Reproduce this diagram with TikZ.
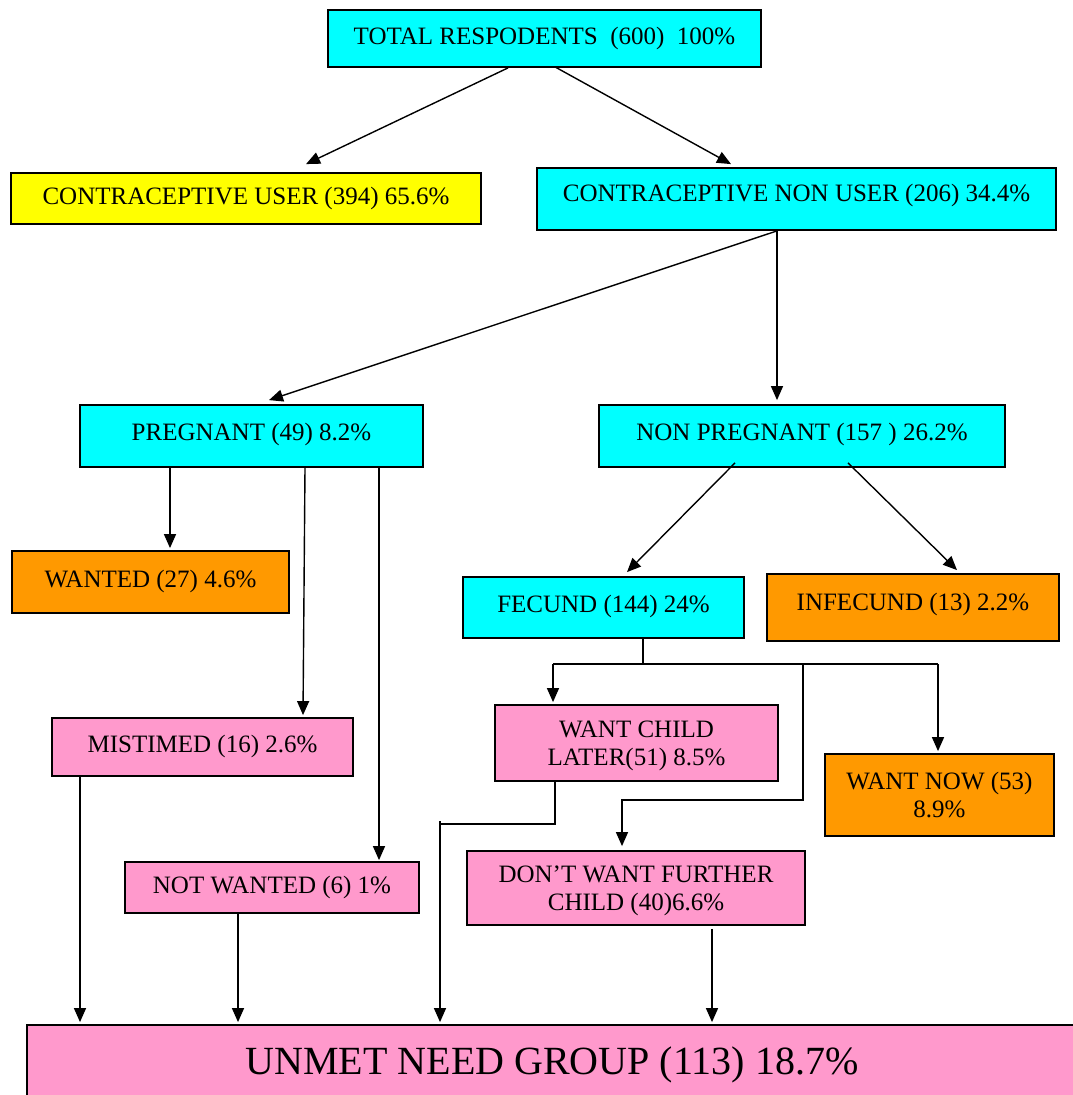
\documentclass[tikz,border=0pt]{standalone}
\usepackage{fontspec}
\setmainfont{Liberation Serif}
\usetikzlibrary{arrows.meta,calc}
\definecolor{cyanbox}{RGB}{0,255,255}
\definecolor{yellowbox}{RGB}{255,255,0}
\definecolor{orangebox}{RGB}{255,153,0}
\definecolor{pinkbox}{RGB}{255,153,204}
\begin{document}
\begin{tikzpicture}[x=1pt,y=-1pt,
  box/.style={draw=black,line width=1.8pt,rectangle,inner sep=0pt,align=center,
    font=\fontsize{25}{28.5}\selectfont},
  cbox/.style={box,fill=cyanbox},
  ybox/.style={box,fill=yellowbox},
  obox/.style={box,fill=orangebox},
  pbox/.style={box,fill=pinkbox},
  conn/.style={line width=1.4pt,draw=black},
  arr/.style={conn,-{Triangle[length=14pt,width=12pt]}},
  sz/.style 2 args={minimum width=#1pt,minimum height=#2pt}]
\useasboundingbox (0,0) rectangle (1073,1095);
\fill[white] (0,0) rectangle (1073,1095);

\node[cbox,sz={433}{57}] (total) at (544.5,38.5) {TOTAL RESPODENTS~~(600)~~100\%};
\node[ybox,sz={470}{51}] (user) at (246,198.5) {CONTRACEPTIVE USER (394) 65.6\%};
\node[cbox,sz={519}{62},text depth=12pt] (nonuser) at (796.5,199) {CONTRACEPTIVE NON USER (206) 34.4\%};
\node[cbox,sz={343}{62},text depth=8pt] (preg) at (251.5,436) {PREGNANT (49) 8.2\%};
\node[cbox,sz={406}{62},text depth=8pt] (nonpreg) at (802,436) {NON PREGNANT (157 ) 26.2\%};
\node[obox,sz={277}{62},text depth=7pt] (wanted) at (150.5,582) {WANTED (27) 4.6\%};
\node[cbox,sz={281}{61},text depth=7pt] (fecund) at (603.5,607.5) {FECUND (144) 24\%};
\node[obox,sz={292}{67},text depth=12pt] (infecund) at (913,607.5) {INFECUND (13) 2.2\%};
\node[pbox,sz={301}{58},text depth=6pt] (mistimed) at (202.5,747) {MISTIMED (16) 2.6\%};
\node[pbox,sz={283}{76},text depth=-3pt] (later) at (636.5,743) {WANT CHILD\\LATER(51) 8.5\%};
\node[obox,sz={229}{82}] (now) at (939.5,795) {WANT NOW (53)\\8.9\%};
\node[pbox,sz={294}{51}] (notwanted) at (272,887.5) {NOT WANTED (6) 1\%};
\node[pbox,sz={338}{74},text depth=-3pt] (dont) at (636,888) {DON’T WANT FURTHER\\CHILD (40)6.6\%};
\node[pbox,sz={1070}{84}] (unmet) at (562,1067) {};
\node[font=\fontsize{40}{46}\selectfont,anchor=base] (unmettext) at (552,1074) {UNMET NEED GROUP (113) 18.7\%};

% level 1
\draw[arr] ($(total.south)+(-36.5,0)$) -- ($(user.north)+(60,-8)$);
\draw[arr] ($(total.south)+(10.5,-1)$) -- ($(nonuser.north)+(-65.5,-3)$);
% level 2
\draw[arr] ($(nonuser.south)+(-19.5,0)$) -- ($(preg.north)+(17.5,-4)$);
\draw[arr] ($(nonuser.south)+(-19.5,0)$) -- ($(nonpreg.north)+(-25,-4)$);
% pregnant branch
\draw[arr] ($(preg.south)+(-81.5,0)$) -- ($(wanted.north)+(19.5,-2)$);
\draw[arr] ($(preg.south)+(53.5,0)$) -- ($(mistimed.north)+(100.5,-2)$);
\draw[arr] ($(preg.south)+(127.5,0)$) -- ($(notwanted.north)+(107,-1)$);
% non pregnant branch
\draw[arr] ($(nonpreg.south)+(-67,-5)$) -- ($(fecund.north)+(23.5,-4)$);
\draw[arr] ($(nonpreg.south)+(46,-5)$) -- ($(infecund.north)+(44,-3)$);
% fecund tree
\coordinate (split) at ($(fecund.south)+(39.5,26)$);
\coordinate (hl) at (553,664);
\coordinate (hr) at (938,664);
\coordinate (hm) at (803,664);
\coordinate (bend) at (803,800);
\draw[conn] ($(fecund.south)+(39.5,0)$) -- (split);
\draw[conn] (hl) -- (hr);
\draw[arr] (hl) -- ($(later.north)+(-83.5,-2)$);
\draw[arr] (hr) -- ($(now.north)+(-1.5,-2)$);
\draw[arr] (hm) -- (bend) -| ($(dont.north)+(-14,-4)$);
% to unmet need group
\coordinate (lbend) at (440,824);
\draw[conn] (440,821) -- (lbend);
\draw[arr] ($(later.south)+(-81.5,0)$) |- (lbend) -- ($(unmet.north)+(-122,-2)$);
\draw[arr] ($(mistimed.south)+(-122.5,0)$) -- ($(unmet.north)+(-482,-2)$);
\draw[arr] ($(notwanted.south)+(-34,0)$) -- ($(unmet.north)+(-324,-2)$);
\draw[arr] ($(dont.south)+(76,3)$) -- ($(unmet.north)+(150,-2)$);
\end{tikzpicture}
\end{document}
